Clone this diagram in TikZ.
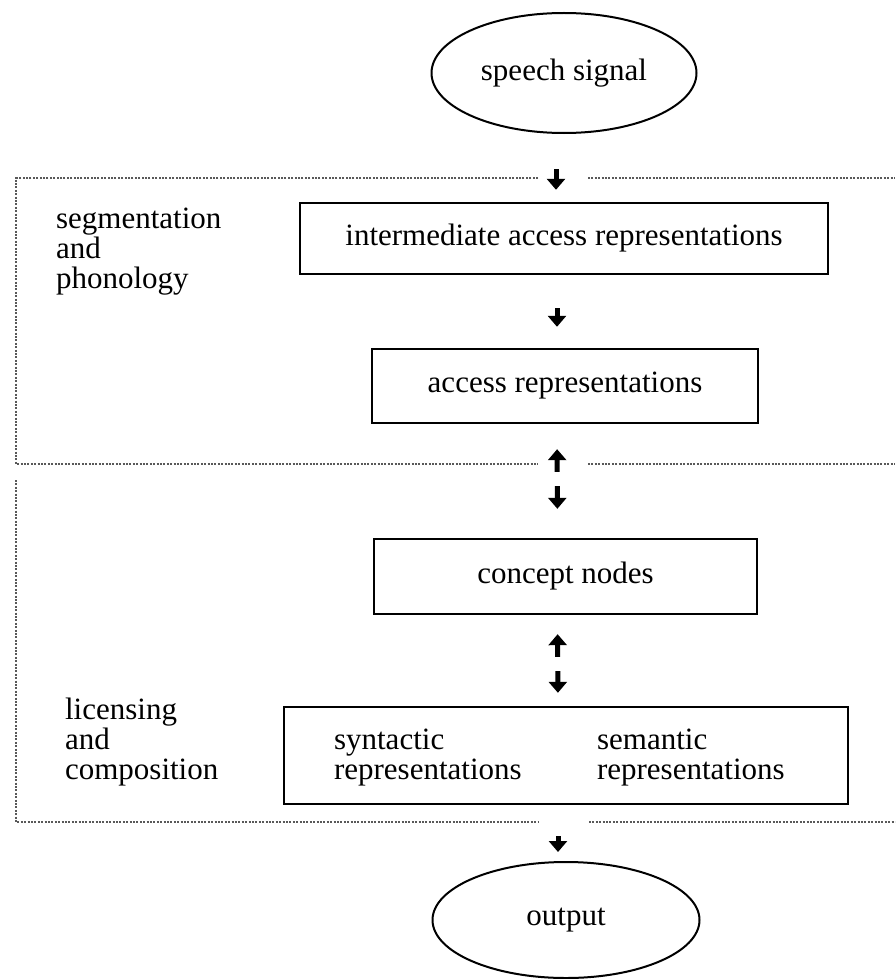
\documentclass[tikz,border=0pt]{standalone}
\usepackage{fontspec}
\setmainfont{Liberation Serif}
\usetikzlibrary{shapes.geometric,arrows.meta}

\begin{document}
\begin{tikzpicture}[x=0.5pt,y=-0.5pt,
  every node/.style={font=\fontsize{15.5}{15}\selectfont},
  stagebox/.style={draw,line width=1.2pt,inner sep=0pt},
  endpoint/.style={draw,ellipse,line width=1pt,inner sep=0pt},
  sidelabel/.style={anchor=west,align=left},
  zone/.style={black!65,line width=1pt,dash pattern=on 1pt off 0.7pt},
  flow/.style={-{Triangle[length=5.5pt,width=9pt]},line width=2.5pt}]
  \useasboundingbox (0,0) rectangle (895,979);

  % Input and output
  \node[endpoint,minimum width=132.5pt,minimum height=60pt] (speech) at (564,73) {speech signal};
  \node[endpoint,minimum width=133.5pt,minimum height=58pt] (output) at (566,920) {output};

  % Processing stages
  \node[stagebox,minimum width=264pt,minimum height=35.5pt] (inter) at (564,238.5) {intermediate access representations};
  \node[stagebox,minimum width=193pt,minimum height=37pt] (access) at (565,386) {access representations};
  \node[stagebox,minimum width=191.5pt,minimum height=37.5pt] (concept) at (565.5,576.5) {concept nodes};
  \node[stagebox,minimum width=282pt,minimum height=48.5pt] (syntsem) at (566,755.5) {};
  \node[sidelabel] (syntext) at (327,758) {syntactic\\representations};
  \node[sidelabel] (semtext) at (590,758) {semantic\\representations};

  % Zone labels
  \node[sidelabel] (seglabel) at (49,252) {segmentation\\and\\phonology};
  \node[sidelabel] (liclabel) at (58,742) {licensing\\and\\composition};

  % Dotted zone borders
  \draw[zone] (538,178) -- (16,178) -- (16,464) -- (538,464);
  \draw[zone] (588,178) -- (895,178);
  \draw[zone] (588,464) -- (895,464);
  \draw[zone] (16,480) -- (16,822) -- (539,822);
  \draw[zone] (589,822) -- (895,822);

  % Arrows
  \draw[flow,shorten <=17.5pt,shorten >=6pt] ([xshift=-4pt]speech.south) -- ([xshift=-4pt]inter.north);
  \draw[flow,shorten <=16.5pt,shorten >=10.5pt] ([xshift=-3.5pt]inter.south) -- ([xshift=-4pt]access.north);
  \draw[flow,shorten <=33pt,shorten >=12.5pt] ([xshift=-4pt]concept.north) -- ([xshift=-4pt]access.south);
  \draw[flow,shorten <=31pt,shorten >=14.5pt] ([xshift=-4pt]access.south) -- ([xshift=-4pt]concept.north);
  \draw[flow,shorten <=24.5pt,shorten >=9.5pt] ([xshift=-4pt]syntsem.north) -- ([xshift=-4pt]concept.south);
  \draw[flow,shorten <=28pt,shorten >=6.5pt] ([xshift=-4pt]concept.south) -- ([xshift=-4pt]syntsem.north);
  \draw[flow,shorten <=15.5pt,shorten >=4.5pt] ([xshift=-4pt]syntsem.south) -- ([xshift=-4pt]output.north);
\end{tikzpicture}
\end{document}
